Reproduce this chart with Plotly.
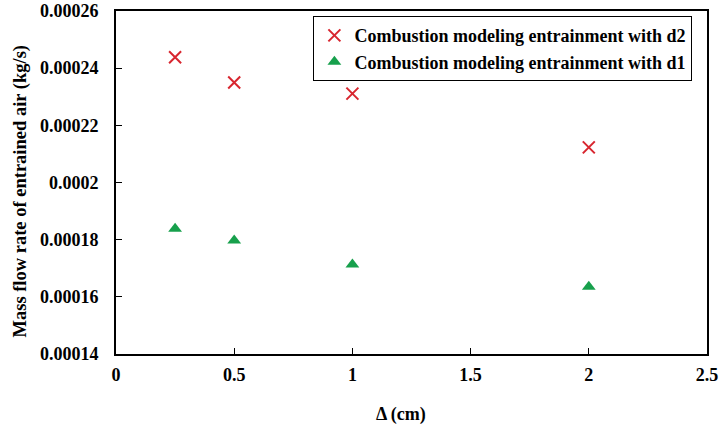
import plotly.graph_objects as go

delta_cm = [0.25, 0.5, 1, 2]
d2_values = [0.0002438, 0.0002350, 0.0002311, 0.0002123]
d1_values = [0.0001838, 0.0001797, 0.0001713, 0.0001635]
series_names = ["Combustion modeling entrainment with d2",
                "Combustion modeling entrainment with d1"]
y_ticks = [0.00014, 0.00016, 0.00018, 0.0002, 0.00022, 0.00024, 0.00026]
y_tick_labels = ["0.00014", "0.00016", "0.00018", "0.0002", "0.00022", "0.00024", "0.00026"]
x_ticks = [0, 0.5, 1, 1.5, 2, 2.5]
x_tick_labels = ["0", "0.5", "1", "1.5", "2", "2.5"]
x_title = "Δ (cm)"
y_title = "Mass flow rate of entrained air (kg/s)"

FONT = "Liberation Serif, Times New Roman, serif"

fig = go.Figure()
fig.add_trace(go.Scatter(
    x=delta_cm, y=d2_values, mode="markers", name="<b>" + series_names[0] + "</b>",
    marker=dict(symbol="x-thin", size=12, line=dict(color="#d8262f", width=2), color="#d8262f"),
))
fig.add_trace(go.Scatter(
    x=delta_cm, y=d1_values, mode="markers", name="<b>" + series_names[1] + "</b>",
    marker=dict(symbol="triangle-up", size=12, color="#17a04c"),
))

fig.update_layout(
    width=720, height=426,
    margin=dict(l=116, r=13, t=11, b=72, autoexpand=False),
    paper_bgcolor="white", plot_bgcolor="white",
    font=dict(family=FONT, color="black", size=18),
    showlegend=True,
    legend=dict(
        x=0.334, y=0.985, xanchor="left", yanchor="top",
        bgcolor="white", bordercolor="black", borderwidth=1,
        font=dict(family=FONT, size=18, color="black"),
        itemwidth=30, tracegroupgap=0,
    ),
    xaxis=dict(
        range=[0, 2.5], tickvals=x_ticks, ticktext=["<b>%s</b>" % t for t in x_tick_labels],
        showgrid=False, zeroline=False, showline=True, linecolor="black", linewidth=2,
        mirror=True, ticks="inside", ticklen=6, tickcolor="black",
        tickfont=dict(family=FONT, size=18), ticklabelstandoff=3,
        ticklabeloverflow="allow", automargin=False,
    ),
    yaxis=dict(
        range=[0.00014, 0.00026], tickvals=y_ticks, ticktext=["<b>%s</b>" % t for t in y_tick_labels],
        showgrid=False, zeroline=False, showline=True, linecolor="black", linewidth=2,
        mirror=True, ticks="inside", ticklen=6, tickcolor="black",
        tickfont=dict(family=FONT, size=18), ticklabelstandoff=12,
        ticklabeloverflow="allow", automargin=False,
    ),
    annotations=[
        dict(text="<b>%s</b>" % x_title, xref="paper", yref="paper",
             x=(401 - 116) / 591, y=-(413 - 353) / 342, xanchor="center", yanchor="middle",
             showarrow=False, font=dict(family=FONT, size=18, color="black")),
        dict(text="<b>%s</b>" % y_title, xref="paper", yref="paper", textangle=-90,
             x=(21 - 116) / 591, y=1 - (191 - 11) / 342, xanchor="center", yanchor="middle",
             showarrow=False, font=dict(family=FONT, size=18.5, color="black")),
    ],
)

fig.write_html("out.html")
